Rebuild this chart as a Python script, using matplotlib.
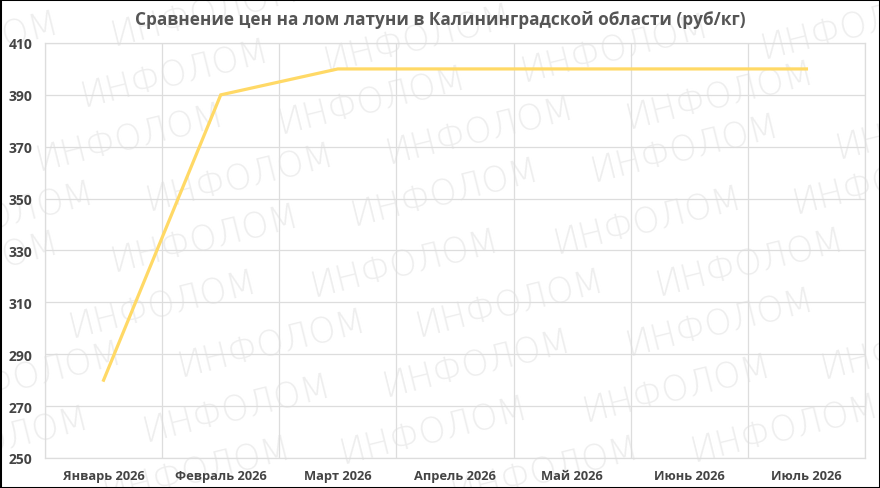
import matplotlib
matplotlib.use("Agg")
import matplotlib.pyplot as plt
from matplotlib.patches import Rectangle

# ---- data ----
months = ["Январь 2026", "Февраль 2026", "Март 2026", "Апрель 2026",
          "Май 2026", "Июнь 2026", "Июль 2026"]
prices = [280, 390, 400, 400, 400, 400, 400]
y_ticks = [250, 270, 290, 310, 330, 350, 370, 390, 410]
title = "Сравнение цен на лом латуни в Калининградской области (руб/кг)"
watermark = "ИНФОЛОМ"
# watermark centres in pixel coordinates (x, y from top)
wm_x = [-35, 205, 175, 418, 372, 130, 480, 0, 240, 445, 205, -35, 163, 405,
        272, 28, 510, 477, 237, -5, 434, 197, 545,
        615, 855, 720, 685, 930, 648, 887, 750, 720, 677, 785, 915]
wm_y = [45, 12, 73, 38, 100, 137, 130, 215, 177, 192, 238, 265, 304, 263,
        343, 375, 303, 363, 408, 440, 430, 470, 470,
        48, 25, 95, 148, 125, 220, 180, 262, 322, 388, 428, 345]

W, H = 880, 489
plt.rcParams['font.family'] = ['Open Sans', 'DejaVu Sans']

fig = plt.figure(figsize=(W / 100, H / 100), dpi=100)
fig.patch.set_facecolor("white")

for x, y in zip(wm_x, wm_y):
    fig.text(x / W, 1 - y / H, watermark, fontsize=25, color="#eeeeee",
             rotation=14, ha="center", va="center", zorder=-5,
             family=["DejaVu Sans"], fontweight="light")

ax = fig.add_axes([45 / W, (H - 459) / H, (865 - 45) / W, (459 - 44) / H])
ax.set_facecolor("none")

xs = [i + 0.5 for i in range(len(months))]
ax.plot(xs, prices, color="#ffd966", linewidth=2.3, solid_joinstyle="miter",
        zorder=3)

ax.set_xlim(0, len(months))
ax.set_ylim(250, 410)
ax.set_yticks(y_ticks)
ax.set_yticklabels([str(v) for v in y_ticks])
ax.set_xticks(range(len(months) + 1), minor=False)
ax.set_xticklabels([""] * (len(months) + 1))
ax.set_xticks(xs, minor=True)
ax.set_xticklabels(months, minor=True)

ax.grid(True, which="major", color="#dddddd", linewidth=0.9)
ax.set_axisbelow(True)
for s in ax.spines.values():
    s.set_color("#dddddd")
    s.set_linewidth(0.9)

ax.tick_params(axis="both", which="both", length=0)
ax.tick_params(axis="y", pad=9, labelsize=10, labelcolor="#444444")
ax.tick_params(axis="x", which="minor", pad=8, labelsize=9.3,
               labelcolor="#444444")
for lab in ax.get_yticklabels() + ax.get_xticklabels(minor=True):
    lab.set_fontweight("bold")

fig.text(0.5, 1 - 20 / H, title, ha="center", va="center", fontsize=12.4,
         fontweight="bold", color="#555555")

fig.patches.append(Rectangle((0, 0), 1, 1, transform=fig.transFigure,
                             fill=False, edgecolor="black", linewidth=2.2,
                             zorder=10))

fig.savefig("out.png", dpi=100)
